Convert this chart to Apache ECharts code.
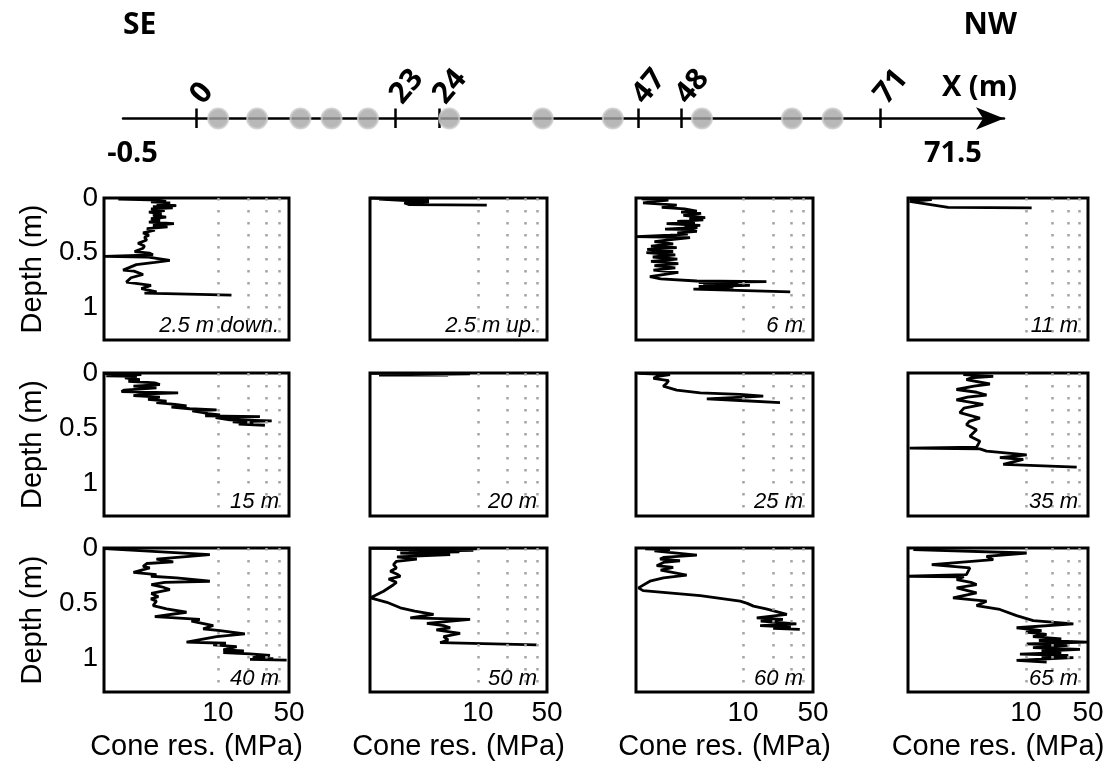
<!DOCTYPE html>
<html>
<head>
<meta charset="utf-8">
<title>Cone resistance profiles</title>
<script src="https://cdn.jsdelivr.net/npm/echarts@6.0.0/dist/echarts.min.js"></script>
<style>
  body { margin: 0; background: #fff; }
  #main { width: 1116px; height: 762px; }
</style>
</head>
<body>
<div id="main"></div>
<script type="text/javascript">
// profile line drawn on top: positions along the (schematic) line, 1 m gaps are stretched
var lineTicks = [0, 23, 28, 51, 56, 79];
var lineTickLabels = ['0', '23', '24', '47', '48', '71'];
var lineEnds = [-7.4, 87.4];
var lineEndLabels = ['-0.5', '71.5'];
var sitePos = [2.5, 7, 12, 15.6, 19.8, 29.2, 40, 48.1, 58.4, 68.8, 73.5];

var panelNames = ['2.5 m down.', '2.5 m up.', '6 m', '11 m',
                  '15 m', '20 m', '25 m', '35 m',
                  '40 m', '50 m', '60 m', '65 m'];

// each profile: [cone resistance (MPa), depth (m)]
var cpt25down = [[1.05,0.01],[1.7,0.015],[2.6,0.02],[3.1,0.03],[2.2,0.035],[3.4,0.045],[2.5,0.055],[3.9,0.07],
  [2.3,0.08],[3.6,0.09],[2.2,0.1],[3.0,0.115],[2.1,0.13],[2.8,0.145],[2.3,0.16],[3.1,0.175],[2.2,0.19],
  [2.7,0.205],[2.1,0.22],[3.7,0.235],[2.3,0.25],[3.2,0.265],[2.0,0.28],[2.4,0.295],[1.84,0.32],[2.1,0.34],
  [1.9,0.36],[2.0,0.385],[1.64,0.415],[1.9,0.44],[1.84,0.46],[1.52,0.49],[2.14,0.505],[2.3,0.52],[0.77,0.535],
  [2.0,0.54],[3.37,0.57],[2.4,0.59],[1.58,0.61],[1.17,0.66],[1.5,0.67],[1.84,0.7],[1.4,0.73],[1.26,0.77],
  [2.2,0.8],[1.77,0.83],[2.5,0.86],[1.9,0.87],[13.6,0.89]];
var cpt25up = [[0.82,0.0],[3.2,0.02],[1.0,0.01],[3.2,0.035],[1.8,0.045],[2.0,0.06],[12.3,0.065]];
var cpt06 = [[0.97,0.008],[1.79,0.02],[1.0,0.045],[2.17,0.065],[1.54,0.085],[2.6,0.1],[3.45,0.12],[2.4,0.13],
  [3.8,0.14],[2.53,0.16],[4.18,0.18],[2.9,0.19],[4.0,0.2],[2.2,0.215],[3.3,0.225],[1.72,0.235],[3.73,0.25],
  [2.6,0.26],[3.5,0.27],[1.66,0.285],[3.0,0.29],[3.45,0.305],[2.2,0.32],[2.8,0.33],[1.86,0.339],[0.86,0.354],
  [2.95,0.363],[1.72,0.385],[1.3,0.4],[2.0,0.42],[1.2,0.44],[2.17,0.455],[1.1,0.47],[2.0,0.49],[1.08,0.5],
  [2.1,0.52],[1.25,0.54],[2.2,0.56],[1.2,0.58],[2.25,0.6],[1.3,0.62],[2.1,0.64],[1.27,0.66],[2.25,0.68],
  [1.17,0.72],[1.5,0.74],[3.45,0.76],[17.1,0.765],[3.6,0.775],[9.0,0.78],[4.0,0.79],[11.7,0.8],[3.6,0.81],
  [8.0,0.815],[3.19,0.835],[29.6,0.86]];
var cpt11 = [[0.49,0.005],[0.87,0.015],[0.49,0.03],[1.33,0.085],[11.6,0.09]];
var cpt15 = [[0.77,0.005],[1.77,0.015],[0.8,0.025],[1.6,0.03],[1.22,0.045],[1.71,0.06],[1.32,0.075],[2.4,0.09],
  [2.69,0.105],[1.48,0.12],[2.49,0.135],[1.2,0.155],[1.13,0.17],[4.07,0.18],[2.0,0.19],[1.48,0.205],[2.69,0.22],
  [2.06,0.24],[3.13,0.255],[2.49,0.27],[3.8,0.285],[4.92,0.3],[3.5,0.31],[5.3,0.325],[9.71,0.335],[5.6,0.345],
  [7.17,0.36],[8.0,0.37],[10.5,0.38],[7.5,0.39],[25.9,0.397],[9.5,0.405],[13.1,0.425],[33.8,0.435],[14.0,0.445],
  [22.3,0.455],[16.0,0.465],[29.0,0.475]];
var cpt20 = [[0.82,0.003],[8.3,0.008],[2.0,0.015],[5.0,0.018],[1.0,0.02]];
var cpt25 = [[0.9,0.003],[1.86,0.015],[1.4,0.03],[1.27,0.048],[1.8,0.07],[1.72,0.094],[1.59,0.12],[2.17,0.155],
  [3.73,0.18],[9.33,0.195],[15.9,0.21],[4.34,0.235],[9.33,0.25],[23.4,0.27]];
var cpt35 = [[1.97,0.015],[4.28,0.03],[2.4,0.045],[2.14,0.06],[3.93,0.1],[2.6,0.12],[1.65,0.15],[2.8,0.175],
  [3.6,0.2],[2.2,0.22],[1.65,0.245],[3.3,0.285],[2.0,0.32],[1.8,0.36],[3.03,0.41],[2.3,0.44],[2.14,0.47],
  [2.78,0.515],[2.34,0.575],[3.03,0.62],[2.78,0.675],[0.49,0.683],[3.03,0.69],[3.6,0.71],[10.2,0.745],
  [5.09,0.77],[9.33,0.785],[5.55,0.83],[37.3,0.855]];
var cpt40 = [[0.77,0.005],[8.34,0.06],[2.49,0.1],[3.64,0.125],[2.0,0.14],[1.84,0.165],[2.14,0.18],[1.48,0.22],
  [2.49,0.24],[2.2,0.255],[3.92,0.27],[8.34,0.3],[3.0,0.31],[2.22,0.33],[2.8,0.35],[3.37,0.375],[2.22,0.41],
  [2.6,0.44],[2.2,0.46],[2.49,0.48],[2.31,0.52],[3.13,0.55],[4.92,0.58],[2.4,0.62],[6.65,0.645],[5.5,0.66],
  [9.0,0.7],[7.17,0.73],[10.5,0.745],[18.4,0.775],[9.71,0.8],[4.92,0.85],[12.0,0.86],[9.0,0.875],[15.3,0.89],
  [11.3,0.92],[18.0,0.93],[11.3,0.945],[20.7,0.955],[32.5,0.97],[22.0,0.99],[35.0,1.0],[20.7,1.005],[47.4,1.013]];
var cpt50 = [[0.82,0.003],[9.75,0.008],[1.5,0.015],[9.0,0.022],[2.0,0.03],[6.5,0.035],[1.64,0.045],[5.24,0.06],
  [1.52,0.08],[2.41,0.1],[1.5,0.12],[1.4,0.15],[1.5,0.18],[1.3,0.21],[1.55,0.24],[1.64,0.257],[1.25,0.28],
  [1.5,0.31],[1.4,0.332],[1.11,0.39],[0.82,0.45],[1.2,0.49],[1.64,0.54],[2.3,0.57],[3.56,0.6],[2.07,0.63],
  [8.34,0.645],[3.05,0.68],[4.5,0.7],[5.24,0.72],[3.8,0.74],[6.61,0.77],[4.5,0.8],[5.0,0.83],[4.15,0.855],
  [39.3,0.875]];
var cpt60 = [[1.05,0.008],[1.86,0.015],[1.3,0.025],[3.45,0.065],[1.6,0.085],[1.48,0.1],[2.34,0.115],[1.6,0.13],
  [1.37,0.16],[2.0,0.175],[1.5,0.2],[2.73,0.245],[1.6,0.27],[1.17,0.3],[0.9,0.36],[1.0,0.385],[3.73,0.43],
  [9.33,0.48],[11.0,0.5],[12.7,0.525],[17.0,0.55],[27.4,0.6],[13.7,0.63],[25.0,0.645],[15.0,0.66],[34.1,0.685],
  [14.8,0.7],[30.0,0.715],[20.0,0.725],[36.9,0.735]];
var cpt65 = [[0.54,0.015],[10.2,0.045],[3.6,0.075],[4.28,0.105],[0.87,0.15],[2.34,0.18],[2.14,0.24],[0.47,0.255],
  [2.0,0.26],[1.66,0.285],[2.4,0.31],[2.78,0.33],[1.66,0.36],[2.78,0.405],[1.51,0.45],[3.6,0.48],[2.78,0.52],
  [5.09,0.555],[7.85,0.61],[12.1,0.655],[34.2,0.685],[7.85,0.72],[15.0,0.745],[10.0,0.76],[17.1,0.78],
  [12.0,0.8],[25.0,0.82],[14.0,0.835],[49.2,0.85],[10.2,0.865],[30.0,0.88],[12.0,0.9],[40.6,0.915],[15.0,0.93],
  [25.0,0.945],[8.56,0.958],[30.0,0.97],[15.0,0.98],[34.2,0.99],[7.85,1.015],[17.1,1.03]];

var profiles = [cpt25down, cpt25up, cpt06, cpt11, cpt15, cpt20, cpt25, cpt35, cpt40, cpt50, cpt60, cpt65];
var gridValues = [10, 20, 30, 40];

// layout of the 3 x 4 panels
var colLeft = [104, 370, 636, 908];
var colWidth = [185, 177, 177, 180];
var rowTop = [198, 373, 548];
var rowHeight = [142, 143, 145];
var colMin = [0.76, 0.81, 0.85, 0.47];

var sansFont = '"Liberation Sans", Arial, sans-serif';
var headFont = '"Open Sans", "Noto Sans", sans-serif';

function init_chart() {
  var myChart = echarts.init(document.getElementById('main'), null, {renderer: 'canvas'});
  var grids = [], xAxes = [], yAxes = [], series = [], graphics = [];

  for (var i = 0; i < profiles.length; i++) {
    var r = Math.floor(i / 4), c = i % 4;
    grids.push({
      left: colLeft[c], top: rowTop[r], width: colWidth[c], height: rowHeight[r],
      show: true, borderColor: '#000', borderWidth: 3, backgroundColor: 'rgba(0,0,0,0)'
    });
    xAxes.push({
      type: 'log', gridIndex: i, min: colMin[c], max: 50,
      axisLine: {show: false}, axisTick: {show: false}, splitLine: {show: false},
      axisLabel: {
        show: r === 2, color: '#000', fontSize: 28, fontFamily: sansFont, margin: 7,
        showMinLabel: true, showMaxLabel: true,
        formatter: function (v) {
          if (Math.abs(v - 10) < 0.05) return '10';
          if (Math.abs(v - 50) < 0.05) return '50';
          return '';
        }
      },
      name: r === 2 ? 'Cone res. (MPa)' : '',
      nameLocation: 'middle', nameGap: 40,
      nameTextStyle: {color: '#000', fontSize: 29, fontFamily: sansFont}
    });
    yAxes.push({
      type: 'value', gridIndex: i, inverse: true, min: 0, max: 1.3, interval: 0.5,
      axisLine: {show: false}, axisTick: {show: false}, splitLine: {show: false},
      axisLabel: {
        show: c === 0, color: '#000', fontSize: 28, fontFamily: sansFont, margin: 6,
        formatter: function (v) {
          return (v === 0 || v === 0.5 || v === 1) ? String(v) : '';
        }
      },
      name: c === 0 ? 'Depth (m)' : '',
      nameLocation: 'middle', nameGap: 57, nameRotate: 90,
      nameTextStyle: {color: '#000', fontSize: 29, fontFamily: sansFont}
    });
    series.push({
      type: 'line', xAxisIndex: i, yAxisIndex: i, data: profiles[i],
      showSymbol: false, silent: true, animation: false,
      lineStyle: {color: '#000', width: 2.8},
      markLine: {
        silent: true, symbol: 'none', animation: false, z: 10,
        label: {show: false},
        lineStyle: {color: '#a4a4a4', width: 2.5, type: [2.5, 9.5]},
        data: gridValues.map(function (g) { return {xAxis: g}; })
      }
    });
    graphics.push({
      type: 'text', z: 20,
      x: colLeft[c] + colWidth[c] - 10, y: rowTop[r] + rowHeight[r] - 3,
      style: {
        text: panelNames[i], align: 'right', verticalAlign: 'bottom',
        fontStyle: 'italic', fontSize: 22, fontFamily: sansFont, fill: '#000'
      }
    });
  }

  // top profile line with survey sites
  var g = profiles.length;
  grids.push({left: 123, top: 118, width: 881, height: 1});
  xAxes.push({
    type: 'value', gridIndex: g, position: 'top', min: -8.5, max: 93.3,
    axisLine: {show: true, symbol: ['none', 'arrow'], symbolSize: [17, 28],
      lineStyle: {color: '#000', width: 2.5}},
    axisTick: {show: true, customValues: lineTicks, length: 10, lineStyle: {color: '#000', width: 2.5}},
    axisLabel: {
      customValues: lineTicks, rotate: 50, margin: 18, color: '#000',
      fontSize: 30, fontWeight: 'bold', fontFamily: headFont,
      formatter: function (v) { return lineTickLabels[lineTicks.indexOf(v)]; }
    },
    splitLine: {show: false},
    name: 'X (m)', nameLocation: 'end', nameGap: 13,
    nameTextStyle: {color: '#000', fontSize: 29, fontWeight: 'bold', fontFamily: headFont,
      align: 'right', verticalAlign: 'bottom', padding: [0, 0, 16, 0]}
  });
  xAxes.push({
    type: 'value', gridIndex: g, position: 'bottom', min: -8.5, max: 93.3,
    axisLine: {show: false},
    axisTick: {show: true, customValues: lineTicks, length: 9, lineStyle: {color: '#000', width: 2.5}},
    axisLabel: {
      customValues: lineEnds, margin: 20, color: '#000',
      fontSize: 29, fontWeight: 'bold', fontFamily: headFont,
      formatter: function (v) { return lineEndLabels[lineEnds.indexOf(v)]; }
    },
    splitLine: {show: false}
  });
  yAxes.push({type: 'value', gridIndex: g, min: -1, max: 1, show: false});
  series.push({
    type: 'scatter', xAxisIndex: g, yAxisIndex: g, silent: true, animation: false,
    data: sitePos.map(function (p) { return [p, 0]; }),
    symbolSize: 20, z: 5,
    itemStyle: {color: '#a6a6a6', borderColor: '#cbcbcb', borderWidth: 2}
  });

  graphics.push({type: 'text', x: 123, y: 10,
    style: {text: 'SE', fontSize: 30, fontWeight: 'bold', fontFamily: headFont, fill: '#000'}});
  graphics.push({type: 'text', x: 1017, y: 10,
    style: {text: 'NW', align: 'right', fontSize: 30, fontWeight: 'bold', fontFamily: headFont, fill: '#000'}});

  var option = {
    backgroundColor: '#fff',
    animation: false,
    grid: grids, xAxis: xAxes, yAxis: yAxes, series: series, graphic: graphics
  };
  myChart.setOption(option);
  return myChart;
}

init_chart();
</script>
</body>
</html>
